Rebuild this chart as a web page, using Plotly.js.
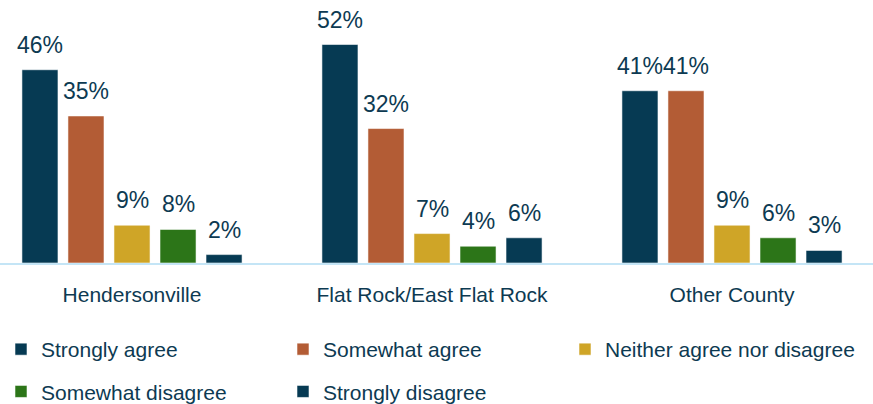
<!DOCTYPE html>
<html>
<head>
<meta charset="utf-8">
<script src="https://cdn.plot.ly/plotly-3.0.1.min.js"></script>
<style>html,body{margin:0;padding:0;background:#fff;}#chart{width:873px;height:404px;}</style>
</head>
<body>
<div id="chart"></div>
<script>
var categories = ["Hendersonville", "Flat Rock/East Flat Rock", "Other County"];
var seriesNames = ["Strongly agree", "Somewhat agree", "Neither agree nor disagree", "Somewhat disagree", "Strongly disagree"];
var stronglyAgree = [46, 52, 41];
var somewhatAgree = [35, 32, 41];
var neither = [9, 7, 9];
var somewhatDisagree = [8, 4, 6];
var stronglyDisagree = [2, 6, 3];
var seriesValues = [stronglyAgree, somewhatAgree, neither, somewhatDisagree, stronglyDisagree];
var colors = ["#063a53", "#b35c35", "#cfa527", "#2c7518", "#063a53"];

var FONT = "Liberation Sans, Arial, sans-serif";
var TEXT = "#0d3a52";

// legend column of each series (legend grid: 3 columns, 2 rows)
var legendIds = ["legend", "legend2", "legend3", "legend", "legend2"];

var traces = seriesValues.map(function (vals, i) {
  return {
    type: "bar",
    name: seriesNames[i],
    x: categories,
    y: vals,
    marker: { color: colors[i], line: { color: "rgba(255,255,255,0.55)", width: 1 } },
    legend: legendIds[i],
    legendgroup: "g" + i,
    hoverinfo: "skip"
  };
});

var slot = 46;
var annotations = [];
seriesValues.forEach(function (vals, i) {
  vals.forEach(function (v, c) {
    annotations.push({
      x: categories[c], y: v, xref: "x", yref: "y",
      text: v + "%", showarrow: false,
      yanchor: "bottom", xanchor: "center",
      xshift: (i - 2) * slot, yshift: 10,
      font: { family: FONT, size: 23, color: TEXT }
    });
  });
});

var W = 873, PH = 263;
var legendTop = (PH - 329) / PH;
function legendAt(px) {
  return {
    orientation: "v", x: px / W, xanchor: "left", y: legendTop, yanchor: "top",
    font: { family: FONT, size: 21, color: TEXT },
    bgcolor: "rgba(0,0,0,0)", traceorder: "grouped", tracegroupgap: 12
  };
}

var layout = {
  width: W, height: 404,
  margin: { l: 0, r: 0, t: 0, b: 141, autoexpand: false },
  paper_bgcolor: "#ffffff", plot_bgcolor: "#ffffff",
  barmode: "group", bargap: 0.233, bargroupgap: 0.217,
  xaxis: {
    type: "category", range: [-0.44, 2.47], automargin: false,
    showline: true, linecolor: "#c4e5f6", linewidth: 2,
    showgrid: false, zeroline: false, ticks: "",
    ticklabelstandoff: 12,
    tickfont: { family: FONT, size: 21, color: TEXT }
  },
  yaxis: {
    range: [0, 62.6], visible: false, showgrid: false, zeroline: false
  },
  annotations: annotations,
  legend: legendAt(1),
  legend2: legendAt(283),
  legend3: legendAt(565),
  showlegend: true
};

Plotly.newPlot("chart", traces, layout, { staticPlot: true, displayModeBar: false });
</script>
</body>
</html>
